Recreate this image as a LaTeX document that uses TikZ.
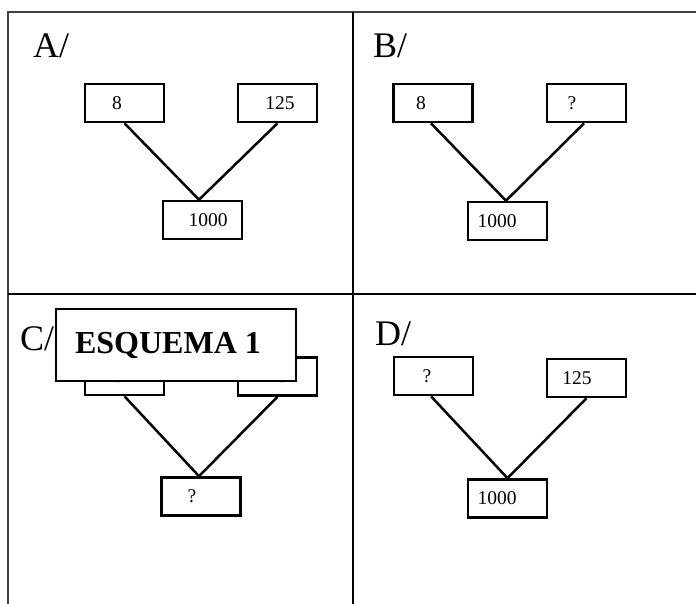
\documentclass[tikz,border=0pt]{standalone}
\usepackage{fontspec}
\setmainfont{Liberation Serif}
\usetikzlibrary{calc}
\tikzset{
  box/.style={draw, line width=2.6pt, minimum width=79pt, minimum height=38pt, inner sep=0pt, font=\fontsize{19.5}{19.5}\selectfont},
  link/.style={line width=2.5pt},
  frame/.style={line width=1.3pt, draw=black!75},
  grid/.style={line width=2.8pt},
  panel/.style={anchor=base west, inner sep=0pt, font=\fontsize{36}{36}\selectfont},
  banner/.style={draw, fill=white, line width=1.3pt, minimum width=240pt, minimum height=72pt, inner sep=0pt, font=\fontsize{32}{32}\selectfont\bfseries}
}
\begin{document}
\begin{tikzpicture}[x=1pt, y=-1pt]
\useasboundingbox (0,0) rectangle (696,604);
% frame and grid
\coordinate (tl) at (8,12);
\coordinate (tr) at (696,12);
\coordinate (bl) at (8,604);
\coordinate (ml) at (8,294);
\coordinate (mr) at (696,294);
\coordinate (vt) at (353,12);
\coordinate (vb) at (353,604);
\draw[frame] (bl) -- (tl) -- (tr);
\draw[grid] (ml) -- (mr);
\draw[grid] (vt) -- (vb);

% Panel A
\node[panel] (la) at (33,58) {A/};
\node[box] (a1) at (124.5,103) {8\hspace*{15pt}};
\node[box] (a2) at (277.5,103) {\hspace*{5pt}125};
\node[box] (a3) at (202.5,220) {\hspace*{11pt}1000};
\draw[link] (a1.south) -- ([xshift=-3.5pt]a3.north);
\draw[link] (a2.south) -- ([xshift=-3.5pt]a3.north);

% Panel B
\node[panel] (lb) at (373,58) {B/};
\node[box] (b1) at (433,103) {8\hspace*{24pt}};
\node[box] (b2) at (586.5,103) {?\hspace*{29pt}};
\node[box] (b3) at (507.5,221) {1000\hspace*{21pt}};
\draw[link] ([xshift=-2pt]b1.south) -- ([xshift=-1.5pt]b3.north);
\draw[link] ([xshift=-2.5pt]b2.south) -- ([xshift=-1.5pt]b3.north);

% Panel C
\node[panel] (lc) at (20,350) {C/};
\node[box] (c1) at (124.5,376) {\raisebox{-5pt}{8}\hspace*{15pt}};
\node[box] (c2) at (277.5,376.5) {\raisebox{-5pt}{125}\hspace*{11pt}};
\node[box] (c3) at (201,496.5) {?\hspace*{18pt}};
\draw[link] (c1.south) -- ([xshift=-2pt]c3.north);
\draw[link] (c2.south) -- ([xshift=-2pt]c3.north);
\node[banner] (esq) at (176,345) {\hspace*{-16pt}ESQUEMA 1};

% Panel D
\node[panel] (ld) at (375,345) {D/};
\node[box] (d1) at (433.5,376) {?\hspace*{13pt}};
\node[box] (d2) at (586.5,378) {125\hspace*{19pt}};
\node[box] (d3) at (507.5,498.5) {1000\hspace*{21pt}};
\draw[link] ([xshift=-2.5pt]d1.south) -- (d3.north);
\draw[link] (d2.south) -- (d3.north);
\end{tikzpicture}
\end{document}
